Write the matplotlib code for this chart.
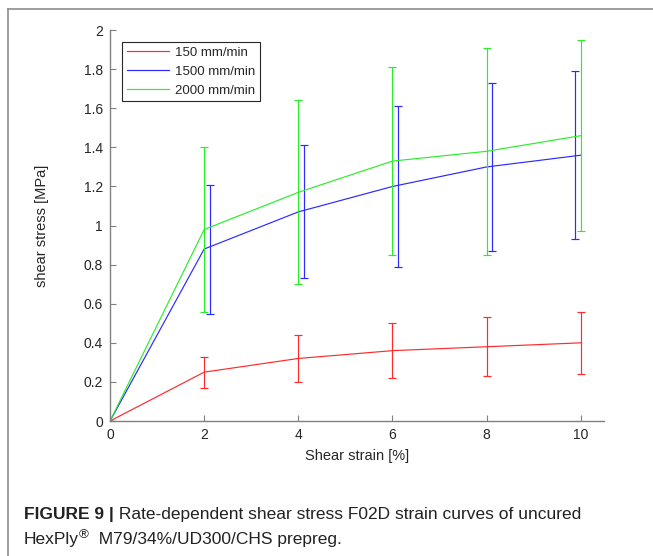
import matplotlib
matplotlib.use("Agg")
import numpy as np
import matplotlib.pyplot as plt
from matplotlib.lines import Line2D
from matplotlib.ticker import FormatStrFormatter
from matplotlib.transforms import offset_copy

strain = [0, 2, 4, 6, 8, 10]

# mean shear stress [MPa] per rate, with lower / upper bounds of the scatter
stress_150 = [0, 0.25, 0.32, 0.36, 0.38, 0.40]
low_150 = [0, 0.17, 0.20, 0.22, 0.23, 0.24]
high_150 = [0, 0.33, 0.44, 0.50, 0.53, 0.56]

stress_1500 = [0, 0.88, 1.07, 1.20, 1.30, 1.36]
low_1500 = [0, 0.55, 0.73, 0.79, 0.87, 0.93]
high_1500 = [0, 1.21, 1.41, 1.61, 1.73, 1.79]
bar_x_1500 = [0, 2.13, 4.13, 6.12, 8.11, 9.88]

stress_2000 = [0, 0.98, 1.17, 1.33, 1.38, 1.46]
low_2000 = [0, 0.56, 0.70, 0.85, 0.85, 0.97]
high_2000 = [0, 1.40, 1.64, 1.81, 1.91, 1.95]

labels = ["150 mm/min", "1500 mm/min", "2000 mm/min"]
colors = ["#ff2a2a", "#2a2aff", "#2aee2a"]

plt.rcParams["font.family"] = ["Liberation Sans", "DejaVu Sans"]

fig = plt.figure(figsize=(6.53, 5.56), dpi=100)
ax = fig.add_axes([0.1685, 0.2428, 0.757, 0.703])

series = [
    (strain, stress_150, low_150, high_150),
    (bar_x_1500, stress_1500, low_1500, high_1500),
    (strain, stress_2000, low_2000, high_2000),
]
for (bx, y, lo, hi), label, c in zip(series, labels, colors):
    y = np.array(y)
    ax.plot(strain, y, color=c, lw=0.85, label=label)
    yerr = [y - np.array(lo), np.array(hi) - y]
    ax.errorbar(bx, y, yerr=yerr, fmt="none", ecolor=c, elinewidth=0.85,
                capsize=2.8, capthick=0.85)

ax.set_xlim(0, 10.5)
ax.set_ylim(0, 2)
ax.set_xticks(strain)
ax.set_yticks(np.arange(0, 2.01, 0.2))
ax.yaxis.set_major_formatter(FormatStrFormatter("%g"))

for side in ("top", "right"):
    ax.spines[side].set_visible(False)
for side in ("left", "bottom"):
    ax.spines[side].set_color("#808080")
    ax.spines[side].set_linewidth(1.0)
ax.tick_params(direction="in", length=4, width=0.8, color="#808080",
               labelsize=10, labelcolor="#262626", pad=5)

ax.set_xlabel("Shear strain [%]", fontsize=10.5, color="#262626", labelpad=5)
ax.set_ylabel("shear stress [MPa]", fontsize=10.5, color="#262626", labelpad=25)

leg = ax.legend(loc="upper left", bbox_to_anchor=(0.024, 0.969), borderaxespad=0,
                fontsize=9.5, handlelength=3.2, handletextpad=0.5, labelspacing=0.5,
                fancybox=False, framealpha=1, edgecolor="#262626",
                borderpad=0.35)
leg.get_frame().set_linewidth(0.8)
for t in leg.get_texts():
    t.set_color("#262626")

# page frame
W, H = 653, 556
fig.add_artist(Line2D([8 / W, 8 / W], [0, 1 - 9 / H], color="#8c8c8c", lw=1.2,
                      transform=fig.transFigure))
fig.add_artist(Line2D([8 / W, 1], [1 - 9 / H, 1 - 9 / H], color="#8c8c8c", lw=1.2,
                      transform=fig.transFigure))

# caption, built piece by piece so the bold lead-in and superscript line up
cap_font = ["Liberation Sans Narrow", "Liberation Sans", "DejaVu Sans"]
renderer = fig.canvas.get_renderer()


def put_pieces(x, y, pieces):
    for text, kw, rise in pieces:
        tr = offset_copy(fig.transFigure, fig=fig, y=rise, units="points")
        t = fig.text(x, y, text, family=cap_font, color="#222222",
                     va="baseline", transform=tr, **kw)
        bb = t.get_window_extent(renderer)
        x += bb.width / W


put_pieces(24 / W, 1 - 519 / H, [
    ("FIGURE 9 |", dict(fontsize=12.5, weight="bold"), 0),
    (" Rate-dependent shear stress F02D strain curves of uncured", dict(fontsize=12.5), 0),
])
put_pieces(24 / W, 1 - 544 / H, [
    ("HexPly", dict(fontsize=12.5), 0),
    ("®", dict(fontsize=9.5), 4.5),
    ("  M79/34%/UD300/CHS prepreg.", dict(fontsize=12.5), 0),
])

fig.savefig("out.png", dpi=100)
